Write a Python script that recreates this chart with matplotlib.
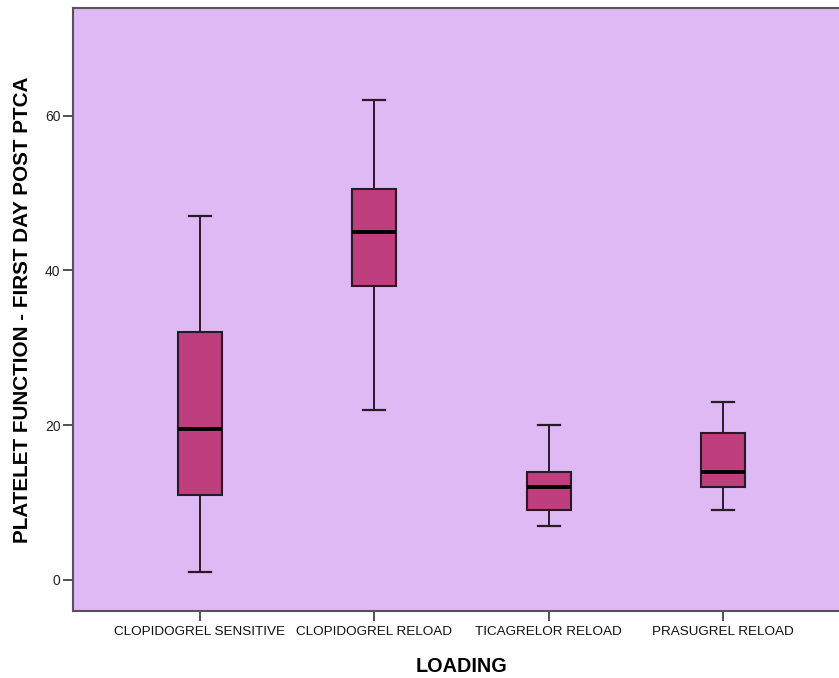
import matplotlib.pyplot as plt

plt.rcParams['font.family'] = ['Liberation Sans', 'DejaVu Sans']

groups = ['CLOPIDOGREL SENSITIVE', 'CLOPIDOGREL RELOAD', 'TICAGRELOR RELOAD', 'PRASUGREL RELOAD']
whisker_low = [1, 22, 7, 9]
q1 = [11, 38, 9, 12]
median = [19.5, 45, 12, 14]
q3 = [32, 50.5, 14, 19]
whisker_high = [47, 62, 20, 23]
yticks = [0, 20, 40, 60]

stats = []
for i, name in enumerate(groups):
    stats.append({'label': name, 'whislo': whisker_low[i], 'q1': q1[i], 'med': median[i],
                  'q3': q3[i], 'whishi': whisker_high[i]})

fig = plt.figure(figsize=(8.39, 6.78), dpi=100)
# axes runs a little past the right edge, the source image is cropped there
ax = fig.add_axes([73 / 839, 67.3 / 678, 777 / 839, 602.7 / 678])
ax.set_facecolor('#DEB9F3')

edge = '#2a1a28'
ax.bxp(stats, positions=range(len(groups)), widths=0.254, capwidths=0.125,
       showfliers=False, patch_artist=True,
       boxprops=dict(facecolor='#BE3E7E', edgecolor=edge, linewidth=1.5),
       whiskerprops=dict(color=edge, linewidth=1.4),
       capprops=dict(color=edge, linewidth=1.6),
       medianprops=dict(color='black', linewidth=2.8))

ax.set_xlim(-0.728, 3.728)
ax.set_ylim(-3.97, 73.9)
ax.set_yticks(yticks)
ax.set_xticks(range(len(groups)))
ax.set_xticklabels(groups, fontsize=9.7, color='#111111')
ax.tick_params(axis='y', labelsize=10, length=7, width=1.2, pad=2, colors='#333333',
               labelcolor='#222222')
ax.tick_params(axis='x', length=7, width=1.2, pad=4, colors='#333333', labelcolor='#111111')

for side in ['left', 'bottom', 'top']:
    ax.spines[side].set_color('#555555')
    ax.spines[side].set_linewidth(1.5)
ax.spines['right'].set_visible(False)

ax.set_xlabel('LOADING', fontsize=14.3, fontweight='bold', labelpad=14)
ax.set_ylabel('PLATELET FUNCTION - FIRST DAY POST PTCA', fontsize=14.9, fontweight='bold')
ax.yaxis.set_label_coords(-0.053, 0.5)

fig.savefig('out.png', dpi=100)
